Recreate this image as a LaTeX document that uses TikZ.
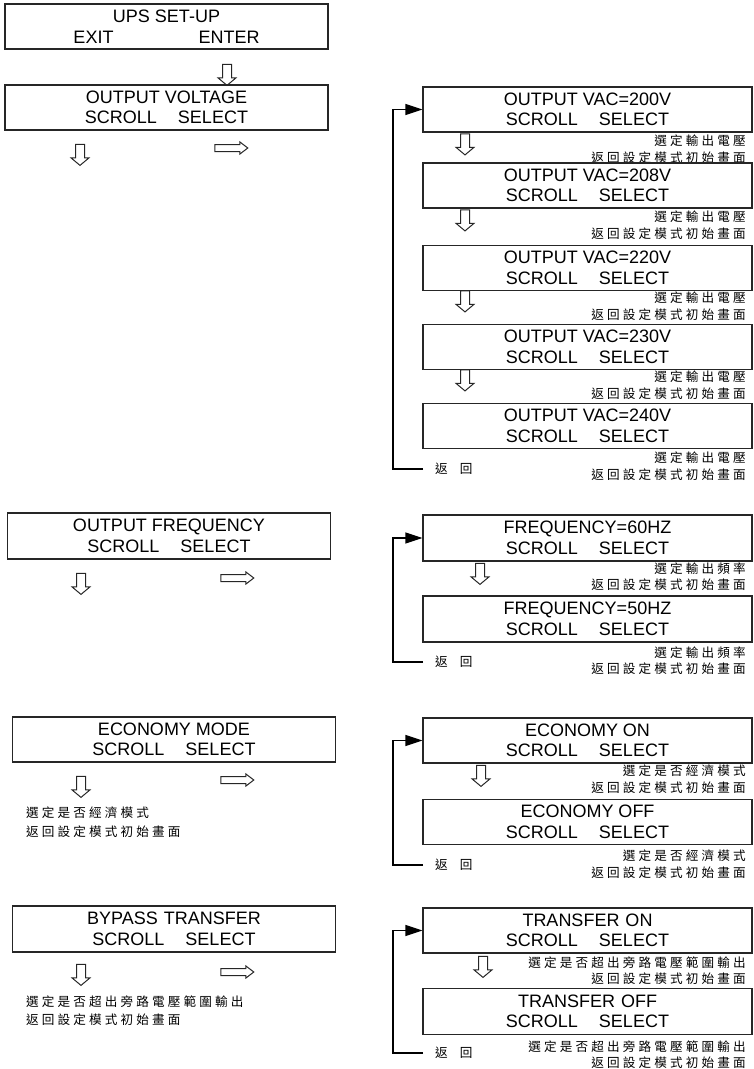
\documentclass[tikz,border=0pt]{standalone}
\usepackage{fontspec}
\setmainfont{Liberation Sans}
\newfontfamily\cjk[LetterSpace=25]{Noto Sans CJK TC}
\usepackage{tikz}
\usetikzlibrary{shapes.arrows,arrows.meta}
\tikzstyle{lbox} = [draw=black!85, line width=1.1pt, minimum width=323pt, minimum height=45pt, inner sep=0pt, align=center, font=\fontsize{18}{20.5}\selectfont]
\tikzstyle{rbox} = [lbox, minimum width=329pt]
\tikzstyle{dnarrow} = [single arrow, draw=black!85, line width=1pt, shape border rotate=270, minimum height=21pt, inner sep=4pt, single arrow head extend=4.5pt, single arrow tip angle=100]
\tikzstyle{rtarrow} = [single arrow, draw=black!85, line width=1pt, minimum height=33pt, inner sep=3pt, single arrow head extend=2.5pt, single arrow tip angle=75]
\tikzstyle{note} = [inner sep=0pt, font=\cjk\fontsize{12.6}{14}\selectfont]
\tikzstyle{rnote} = [note, anchor=east]
\tikzstyle{lnote} = [note, anchor=west]
\tikzstyle{back} = [line width=1.1pt, -{Triangle[length=17pt,width=11pt]}]
\newcommand{\scrollsel}{SCROLL\hspace{21pt}SELECT}

\begin{document}
\begin{tikzpicture}[x=1pt, y=-1pt]
        \useasboundingbox (0,0) rectangle (753,1069);
        % left column
        \node[lbox] (ups) at (166.5,26.5) {UPS SET-UP\\EXIT\hspace{85pt}ENTER};
        \node[dnarrow] (ups-dn) at (227,73) {};
        \node[lbox] (volt) at (166.5,107.5) {OUTPUT VOLTAGE\\\scrollsel};
        \node[dnarrow] (volt-dn) at (80,153) {};
        \node[rtarrow] (volt-rt) at (229,148) {};
        \node[lbox, minimum height=46pt] (freq) at (169,536) {OUTPUT FREQUENCY\\\scrollsel};
        \node[dnarrow] (freq-dn) at (81,582) {};
        \node[rtarrow] (freq-rt) at (235,578) {};
        \node[lbox] (eco) at (174,739.5) {ECONOMY MODE\\\scrollsel};
        \node[dnarrow] (eco-dn) at (81,785) {};
        \node[rtarrow] (eco-rt) at (235,780) {};
        \node[lnote] (eco-a) at (26,813) {選定是否經濟模式};
        \node[lnote] (eco-b) at (26,832) {返回設定模式初始畫面};
        \node[lbox, minimum height=46pt] (byp) at (174,929) {BYPASS\hspace{6pt}TRANSFER\\\scrollsel};
        \node[dnarrow] (byp-dn) at (81,973) {};
        \node[rtarrow] (byp-rt) at (235,972) {};
        \node[lnote] (byp-a) at (26,1002) {選定是否超出旁路電壓範圍輸出};
        \node[lnote] (byp-b) at (26,1020) {返回設定模式初始畫面};

        % output voltage
        \node[rbox] (v200) at (587.5,109.5) {OUTPUT VAC=200V\\\scrollsel};
        \node[rnote] (v200-a) at (746,141) {選定輸出電壓};
        \node[rnote] (v200-b) at (746,158) {返回設定模式初始畫面};
        \node[dnarrow] (v200-dn) at (465,142.5) {};
        \node[rbox] (v208) at (587.5,185.5) {OUTPUT VAC=208V\\\scrollsel};
        \node[rnote] (v208-a) at (746,217) {選定輸出電壓};
        \node[rnote] (v208-b) at (746,234) {返回設定模式初始畫面};
        \node[dnarrow] (v208-dn) at (465,218.5) {};
        \node[rbox] (v220) at (587.5,268) {OUTPUT VAC=220V\\\scrollsel};
        \node[rnote] (v220-a) at (746,298) {選定輸出電壓};
        \node[rnote] (v220-b) at (746,315) {返回設定模式初始畫面};
        \node[dnarrow] (v220-dn) at (465,299.5) {};
        \node[rbox] (v230) at (587.5,347) {OUTPUT VAC=230V\\\scrollsel};
        \node[rnote] (v230-a) at (746,377) {選定輸出電壓};
        \node[rnote] (v230-b) at (746,394) {返回設定模式初始畫面};
        \node[dnarrow] (v230-dn) at (465,378.5) {};
        \node[rbox] (v240) at (587.5,426) {OUTPUT VAC=240V\\\scrollsel};
        \node[rnote] (v240-a) at (746,458) {選定輸出電壓};
        \node[rnote] (v240-b) at (746,475) {返回設定模式初始畫面};
        \node[lnote] (v-ret) at (435,469) {返\hspace{12pt}回};
        \coordinate (v-end) at (423,469);
        \draw[back] (v-end) -- ++(-30,0) |- (v200.west);

        % output frequency
        \node[rbox, minimum height=46pt] (f60) at (587.5,538) {FREQUENCY=60HZ\\\scrollsel};
        \node[rnote] (f60-a) at (746,569) {選定輸出頻率};
        \node[rnote] (f60-b) at (746,585) {返回設定模式初始畫面};
        \node[dnarrow] (f60-dn) at (480,572) {};
        \node[rbox, minimum height=46pt] (f50) at (587.5,619) {FREQUENCY=50HZ\\\scrollsel};
        \node[rnote] (f50-a) at (746,653) {選定輸出頻率};
        \node[rnote] (f50-b) at (746,669) {返回設定模式初始畫面};
        \node[lnote] (f-ret) at (435,662) {返\hspace{12pt}回};
        \coordinate (f-end) at (423,662);
        \draw[back] (f-end) -- ++(-30,0) |- (f60.west);

        % economy mode
        \node[rbox] (ecoon) at (587.5,740.5) {ECONOMY ON\\\scrollsel};
        \node[rnote] (ecoon-a) at (746,771) {選定是否經濟模式};
        \node[rnote] (ecoon-b) at (746,788) {返回設定模式初始畫面};
        \node[dnarrow] (ecoon-dn) at (481,774) {};
        \node[rbox] (ecooff) at (587.5,822) {ECONOMY OFF\\\scrollsel};
        \node[rnote] (ecooff-a) at (746,856) {選定是否經濟模式};
        \node[rnote] (ecooff-b) at (746,873) {返回設定模式初始畫面};
        \node[lnote] (eco-ret) at (435,865) {返\hspace{12pt}回};
        \coordinate (eco-end) at (423,865);
        \draw[back] (eco-end) -- ++(-30,0) |- (ecoon.west);

        % bypass transfer
        \node[rbox] (tron) at (587.5,930.5) {TRANSFER\hspace{6pt}ON\\\scrollsel};
        \node[rnote] (tron-a) at (746,963) {選定是否超出旁路電壓範圍輸出};
        \node[rnote] (tron-b) at (746,979) {返回設定模式初始畫面};
        \node[dnarrow] (tron-dn) at (483,965) {};
        \node[rbox, minimum height=46pt] (troff) at (587.5,1011.5) {TRANSFER\hspace{6pt}OFF\\\scrollsel};
        \node[rnote] (troff-a) at (746,1047) {選定是否超出旁路電壓範圍輸出};
        \node[rnote] (troff-b) at (746,1063) {返回設定模式初始畫面};
        \node[lnote] (tr-ret) at (435,1053) {返\hspace{12pt}回};
        \coordinate (tr-end) at (423,1053);
        \draw[back] (tr-end) -- ++(-30,0) |- (tron.west);
\end{tikzpicture}
\end{document}
